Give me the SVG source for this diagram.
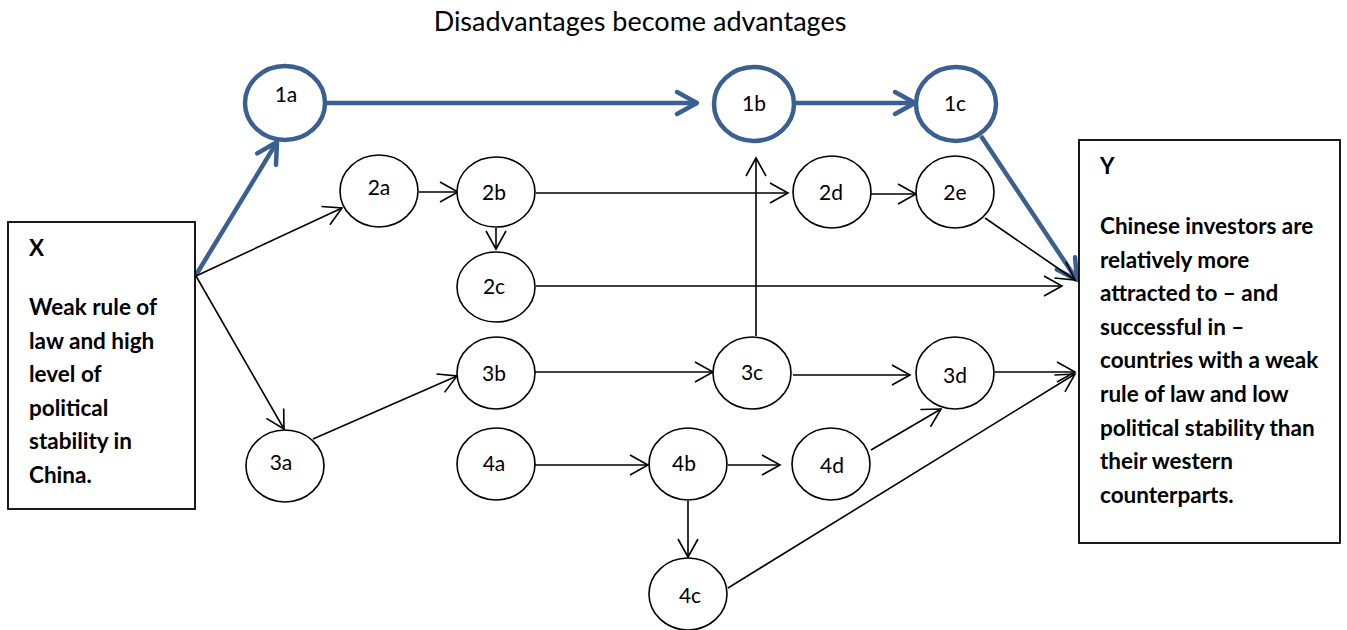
<svg xmlns="http://www.w3.org/2000/svg" width="1347" height="630" viewBox="0 0 1347 630">
  <style>
    .bg { fill: #ffffff; }
    .node ellipse { fill: #ffffff; stroke: #000000; stroke-width: 1.6; }
    .node.key ellipse { stroke: #3A6091; stroke-width: 4.5; }
    .lbl { font-family: Lato, "Liberation Sans", sans-serif; font-size: 21px; fill: #000000; text-anchor: middle; }
    .box rect { fill: #ffffff; stroke: #000000; stroke-width: 1.8; }
    .boxtxt { font-family: Lato, "Liberation Sans", sans-serif; font-size: 22.5px; font-weight: bold; fill: #000000; }
    .title { font-family: Lato, "Liberation Sans", sans-serif; font-size: 27px; fill: #000000; text-anchor: middle; }
    .edge { fill: none; stroke: #000000; stroke-width: 1.6; marker-end: url(#arrow); }
    .edge.key { stroke: #3A6091; stroke-width: 4.5; marker-end: url(#arrowKey); }
  </style>
  <defs>
    <marker id="arrow" markerUnits="userSpaceOnUse" markerWidth="24" markerHeight="24" viewBox="-20 -12 24 24" refX="0" refY="0" orient="auto">
      <path d="M-18,-10 L0,0 L-18,10" fill="none" stroke="#000000" stroke-width="1.6"/>
    </marker>
    <marker id="arrowKey" markerUnits="userSpaceOnUse" markerWidth="30" markerHeight="30" viewBox="-24 -15 30 30" refX="0" refY="0" orient="auto">
      <path d="M-20,-11 L0,0 L-20,11" fill="none" stroke="#3A6091" stroke-width="4.5" stroke-linecap="round" stroke-linejoin="round"/>
    </marker>
  </defs>

  <rect class="bg" x="0" y="0" width="1347" height="630"/>

  <text class="title" x="640" y="31">Disadvantages become advantages</text>

  <!-- connectors -->
  <g id="connectors">
    <line class="edge key" x1="196" y1="275" x2="277" y2="142"/>
    <line class="edge key" x1="326" y1="103" x2="697" y2="103"/>
    <line class="edge key" x1="795" y1="103" x2="915" y2="103"/>
    <line class="edge key" x1="981" y1="136" x2="1077" y2="280"/>

    <line class="edge" x1="196" y1="276" x2="342" y2="208"/>
    <line class="edge" x1="196" y1="276" x2="284" y2="429"/>
    <line class="edge" x1="419" y1="192" x2="458" y2="192"/>
    <line class="edge" x1="496" y1="228" x2="496" y2="249"/>
    <line class="edge" x1="536" y1="193" x2="788" y2="193"/>
    <line class="edge" x1="871" y1="194" x2="916" y2="194"/>
    <line class="edge" x1="985" y1="218" x2="1075" y2="280"/>
    <line class="edge" x1="536" y1="286" x2="1062" y2="286"/>
    <line class="edge" x1="313" y1="439" x2="457" y2="376"/>
    <line class="edge" x1="535" y1="372" x2="713" y2="372"/>
    <line class="edge" x1="756" y1="336" x2="756" y2="158"/>
    <line class="edge" x1="793" y1="375" x2="910" y2="375"/>
    <line class="edge" x1="995" y1="372" x2="1075" y2="372"/>
    <line class="edge" x1="535" y1="465" x2="648" y2="465"/>
    <line class="edge" x1="728" y1="465" x2="780" y2="465"/>
    <line class="edge" x1="871" y1="450" x2="941" y2="409"/>
    <line class="edge" x1="688" y1="501" x2="688" y2="557"/>
    <line class="edge" x1="728" y1="588" x2="1075" y2="374"/>
  </g>

  <!-- source box -->
  <g id="X" class="box">
    <rect x="8" y="222" width="187" height="287"/>
    <text class="boxtxt" x="29" y="256">X</text>
    <text class="boxtxt" x="29" y="315">Weak rule of</text>
    <text class="boxtxt" x="29" y="349">law and high</text>
    <text class="boxtxt" x="29" y="382">level of</text>
    <text class="boxtxt" x="29" y="416">political</text>
    <text class="boxtxt" x="29" y="449">stability in</text>
    <text class="boxtxt" x="29" y="483">China.</text>
  </g>

  <!-- outcome box -->
  <g id="Y" class="box">
    <rect x="1079" y="140" width="261" height="403"/>
    <text class="boxtxt" x="1100" y="174">Y</text>
    <text class="boxtxt" x="1100" y="234">Chinese investors are</text>
    <text class="boxtxt" x="1100" y="268">relatively more</text>
    <text class="boxtxt" x="1100" y="301">attracted to – and</text>
    <text class="boxtxt" x="1100" y="335">successful in –</text>
    <text class="boxtxt" x="1100" y="368">countries with a weak</text>
    <text class="boxtxt" x="1100" y="402">rule of law and low</text>
    <text class="boxtxt" x="1100" y="436">political stability than</text>
    <text class="boxtxt" x="1100" y="469">their western</text>
    <text class="boxtxt" x="1100" y="503">counterparts.</text>
  </g>

  <!-- path 1 -->
  <g id="n1a" class="node key"><ellipse cx="285" cy="103" rx="40" ry="37"/><text class="lbl" x="286" y="102">1a</text></g>
  <g id="n1b" class="node key"><ellipse cx="754" cy="104" rx="40" ry="37"/><text class="lbl" x="754" y="111">1b</text></g>
  <g id="n1c" class="node key"><ellipse cx="956" cy="104" rx="40" ry="37"/><text class="lbl" x="955" y="111">1c</text></g>

  <!-- path 2 -->
  <g id="n2a" class="node"><ellipse cx="379" cy="191" rx="39" ry="36"/><text class="lbl" x="379" y="195">2a</text></g>
  <g id="n2b" class="node"><ellipse cx="496" cy="192" rx="39" ry="35"/><text class="lbl" x="494" y="200">2b</text></g>
  <g id="n2c" class="node"><ellipse cx="496" cy="287" rx="39" ry="35"/><text class="lbl" x="494" y="294">2c</text></g>
  <g id="n2d" class="node"><ellipse cx="832" cy="192" rx="39" ry="36"/><text class="lbl" x="831" y="200">2d</text></g>
  <g id="n2e" class="node"><ellipse cx="955" cy="192" rx="39" ry="36"/><text class="lbl" x="955" y="200">2e</text></g>

  <!-- path 3 -->
  <g id="n3a" class="node"><ellipse cx="285" cy="466" rx="39" ry="36"/><text class="lbl" x="281" y="470">3a</text></g>
  <g id="n3b" class="node"><ellipse cx="496" cy="373" rx="39" ry="36"/><text class="lbl" x="494" y="381">3b</text></g>
  <g id="n3c" class="node"><ellipse cx="752" cy="373" rx="39" ry="36"/><text class="lbl" x="752" y="380">3c</text></g>
  <g id="n3d" class="node"><ellipse cx="955" cy="373" rx="39" ry="36"/><text class="lbl" x="955" y="383">3d</text></g>

  <!-- path 4 -->
  <g id="n4a" class="node"><ellipse cx="496" cy="464" rx="39" ry="36"/><text class="lbl" x="494" y="471">4a</text></g>
  <g id="n4b" class="node"><ellipse cx="688" cy="464" rx="39" ry="36"/><text class="lbl" x="684" y="471">4b</text></g>
  <g id="n4c" class="node"><ellipse cx="688" cy="594" rx="39" ry="36"/><text class="lbl" x="690" y="603">4c</text></g>
  <g id="n4d" class="node"><ellipse cx="831" cy="464" rx="39" ry="36"/><text class="lbl" x="832" y="473">4d</text></g>
</svg>
